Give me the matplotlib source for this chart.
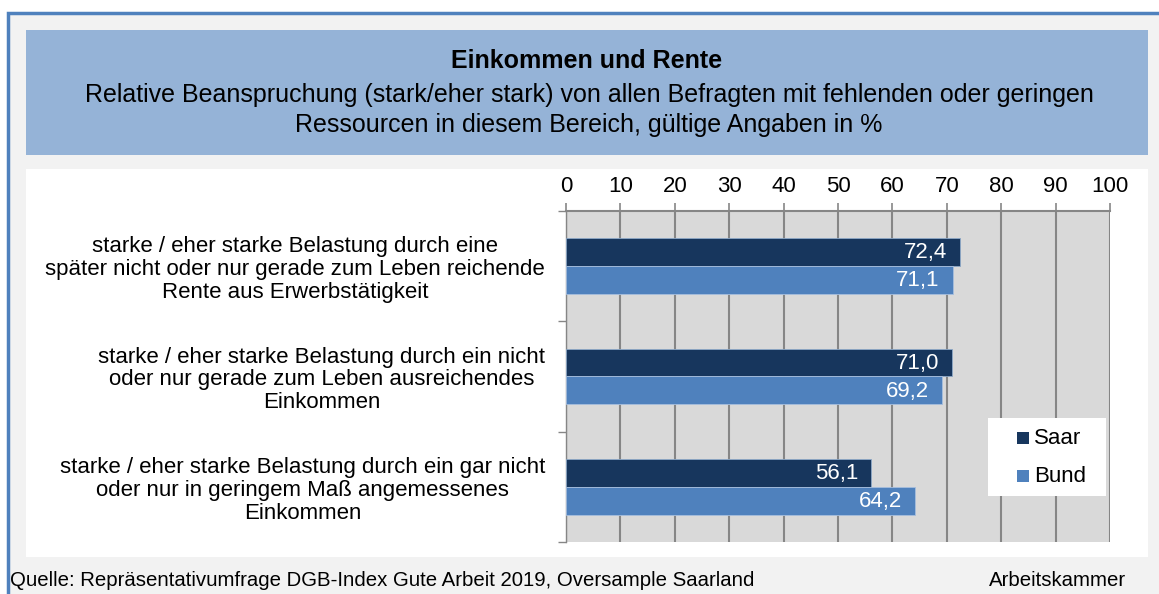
import matplotlib
matplotlib.use("Agg")
import matplotlib.pyplot as plt
from matplotlib.patches import Rectangle
import numpy as np

plt.rcParams['font.family'] = ['Liberation Sans', 'DejaVu Sans']

categories = [
    "starke / eher starke Belastung durch eine\nspäter nicht oder nur gerade zum Leben reichende\nRente aus Erwerbstätigkeit",
    "starke / eher starke Belastung durch ein nicht\noder nur gerade zum Leben ausreichendes\nEinkommen",
    "starke / eher starke Belastung durch ein gar nicht\noder nur in geringem Maß angemessenes\nEinkommen",
]
saar = [72.4, 71.0, 56.1]
bund = [71.1, 69.2, 64.2]
series_names = ["Saar", "Bund"]
xticks = [0, 10, 20, 30, 40, 50, 60, 70, 80, 90, 100]

title = "Einkommen und Rente"
subtitle = ("Relative Beanspruchung (stark/eher stark) von allen Befragten mit fehlenden oder geringen\n"
            "Ressourcen in diesem Bereich, gültige Angaben in %")
source = "Quelle: Repräsentativumfrage DGB-Index Gute Arbeit 2019, Oversample Saarland"
credit = "Arbeitskammer"

W, H = 1159, 594
fig = plt.figure(figsize=(W / 100, H / 100), dpi=100)
fig.patch.set_facecolor("white")

def fx(x):
    return x / W

def fy(y):
    return 1 - y / H

def rect(x0, y0, x1, y1, **kw):
    fig.add_artist(Rectangle((fx(x0), fy(y1)), fx(x1) - fx(x0), fy(y0) - fy(y1),
                             transform=fig.transFigure, **kw))

# outer frame
rect(8, 13, 1162, 620, facecolor="#F2F2F2", edgecolor="#4F81BD", linewidth=2.5, zorder=-3)
# title box
rect(26, 30, 1148, 155, facecolor="#95B3D7", edgecolor="none", zorder=-2)
# chart area
rect(26, 169, 1148, 557, facecolor="white", edgecolor="none", zorder=-2)

fig.text(fx(587), fy(61), title, ha="center", va="center", fontsize=18, fontweight="bold", color="black")
fig.text(fx(589), fy(110), subtitle, ha="center", va="center", fontsize=18, color="black",
         linespacing=1.3)
fig.text(fx(10), fy(580), source, ha="left", va="center", fontsize=14.7, color="black")
fig.text(fx(1126), fy(580), credit, ha="right", va="center", fontsize=14.7, color="black")

# plot axes
L, R, T, B = 566, 1110, 211, 542
ax = fig.add_axes([fx(L), fy(B), fx(R) - fx(L), fy(T) - fy(B)])
ax.set_zorder(5)
ax.set_facecolor("#D9D9D9")
ax.set_xlim(0, 100)
ax.set_ylim(2.5, -0.5)

y = np.arange(len(categories))
h = 0.253
c_saar = "#17365D"
c_bund = "#4F81BD"
b1 = ax.barh(y - h / 2, saar, height=h, color=c_saar, edgecolor="#8EA9C8", linewidth=0.6, zorder=3)
b2 = ax.barh(y + h / 2, bund, height=h, color=c_bund, edgecolor="#A7BFDE", linewidth=0.6, zorder=3)

for bars, vals in ((b1, saar), (b2, bund)):
    for bar, v in zip(bars, vals):
        ax.text(v - 2.4, bar.get_y() + bar.get_height() / 2 + 0.005,
                f"{v:.1f}".replace(".", ","), ha="right", va="center",
                color="white", fontsize=16, zorder=4)

ax.xaxis.tick_top()
ax.set_xticks(xticks)
ax.set_xticklabels([str(t) for t in xticks], fontsize=16)
ax.tick_params(axis="x", direction="out", length=6, width=1.2, color="#868686", pad=4)
ax.grid(axis="x", color="#868686", linewidth=1.5, zorder=1)
ax.set_axisbelow(True)

ax.set_yticks([-0.5, 0.5, 1.5, 2.5])
ax.set_yticklabels([])
ax.tick_params(axis="y", direction="out", length=6, width=1.0, color="#868686")
ax.set_yticks(y, minor=True)
ax.set_yticklabels(categories, minor=True, fontsize=16, ha="right",
                   multialignment="center", linespacing=1.12)
ax.tick_params(axis="y", which="minor", length=0, pad=(566 - 545) * 0.72)

for s in ("bottom", "right"):
    ax.spines[s].set_visible(False)
ax.spines["top"].set_color("#868686")
ax.spines["top"].set_linewidth(1.5)
ax.spines["left"].set_color("#868686")
ax.spines["left"].set_linewidth(1.0)

# legend box
rect(988, 418, 1106, 496, facecolor="white", edgecolor="none", zorder=10)
for name, col, ly in zip(series_names, (c_saar, c_bund), (438, 476)):
    rect(1017, ly - 6, 1029, ly + 6, facecolor=col, edgecolor="none", zorder=11)
    fig.text(fx(1034), fy(ly + 1), name, ha="left", va="center", fontsize=16, color="black", zorder=11)

fig.savefig("out.png", dpi=100, facecolor=fig.get_facecolor())
